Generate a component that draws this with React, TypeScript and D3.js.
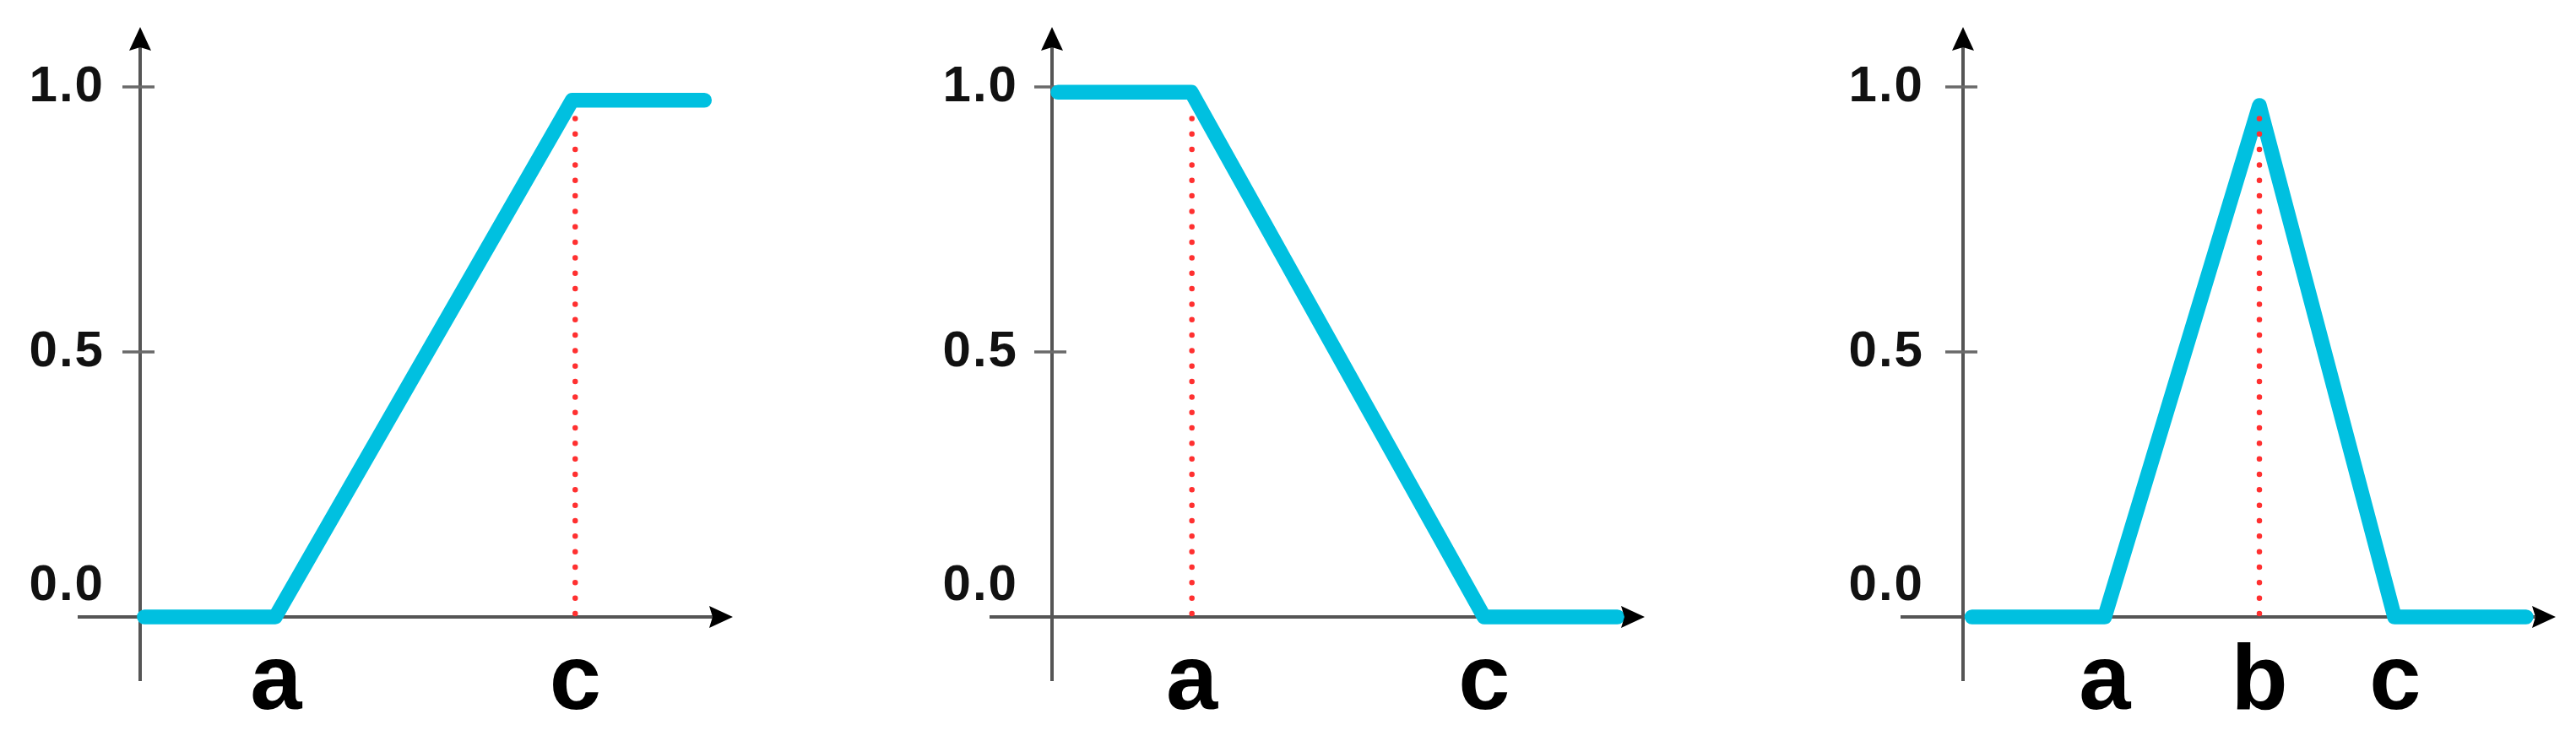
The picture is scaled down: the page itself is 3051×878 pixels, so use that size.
import React from "react";
import * as d3 from "d3";

const W = 3051;
const H = 878;

// Y axis ticks
const tickValues = [0, 0.5, 1.0];
const tickLabels = ["0.0", "0.5", "1.0"];

// Panel 1 (increasing ramp) — x in units where 100 = arrow tip
const p1X = [0.7, 22.8, 72.9, 95.2];
const p1Y = [0, 0, 0.975, 0.975];
const p1Marks = ["a", "c"];
const p1MarkX = [22.9, 73.4];
const p1GuideX = [73.4];
const p1GuideTop = [0.945];

// Panel 2 (decreasing ramp)
const p2X = [1.0, 23.5, 72.9, 95.4];
const p2Y = [0.99, 0.99, 0, 0];
const p2Marks = ["a", "c"];
const p2MarkX = [23.6, 72.9];
const p2GuideX = [23.6];
const p2GuideTop = [0.945];

// Panel 3 (triangle)
const p3X = [1.5, 23.9, 50.0, 72.8, 95.0];
const p3Y = [0, 0, 0.965, 0, 0];
const p3Marks = ["a", "b", "c"];
const p3MarkX = [23.9, 50.0, 72.9];
const p3GuideX = [50.0];
const p3GuideTop = [0.945];

const panels = [
  { xs: p1X, ys: p1Y, marks: p1Marks, markX: p1MarkX, guideX: p1GuideX, guideTop: p1GuideTop },
  { xs: p2X, ys: p2Y, marks: p2Marks, markX: p2MarkX, guideX: p2GuideX, guideTop: p2GuideTop },
  { xs: p3X, ys: p3Y, marks: p3Marks, markX: p3MarkX, guideX: p3GuideX, guideTop: p3GuideTop },
];

// layout
const origins = [166, 1246, 2325];
const labelGap = [42, 40, 46];
const axisLen = 702;
const yScale = d3.scaleLinear().domain([0, 1]).range([731, 103]);

const CYAN = "#00c0e0";
const RED = "#ff3030";
const AXIS = "#555555";
const FONT = "'Liberation Sans', Arial, Helvetica, sans-serif";

function Panel({ idx }: { idx: number }) {
  const p = panels[idx];
  const ox = origins[idx];
  const x = d3.scaleLinear().domain([0, 100]).range([ox, ox + axisLen]);
  const pts: [number, number][] = p.xs.map((v, i) => [x(v), yScale(p.ys[i])]);
  const line = d3.line<[number, number]>().x((d) => d[0]).y((d) => d[1]);
  const y0 = yScale(0);
  const tipY = 32;
  const tipX = x(100);
  return (
    <g>
      <line x1={ox} x2={ox} y1={tipY + 24} y2={807} stroke={AXIS} strokeWidth={4} />
      <line x1={ox - 74} x2={tipX - 24} y1={y0} y2={y0} stroke={AXIS} strokeWidth={4} />
      {tickValues
        .filter((v) => v > 0)
        .map((v) => (
          <line key={v} x1={ox - 21} x2={ox + 17} y1={yScale(v)} y2={yScale(v)} stroke="#6a6a6a" strokeWidth={3.5} />
        ))}
      {tickValues.map((v, i) => (
        <text
          key={"l" + v}
          x={ox - labelGap[idx]}
          y={v === 0 ? y0 - 20 : yScale(v) + 17}
          textAnchor="end"
          fontFamily={FONT}
          fontWeight="bold"
          fontSize={60}
          letterSpacing={2}
          fill="#111"
        >
          {tickLabels[i]}
        </text>
      ))}
      <path
        d={line(pts) || ""}
        fill="none"
        stroke={CYAN}
        strokeWidth={17.5}
        strokeLinejoin="round"
        strokeLinecap="round"
      />
      {p.guideX.map((g, i) => (
        <line
          key={"g" + i}
          x1={x(g)}
          x2={x(g)}
          y1={y0 - 4}
          y2={yScale(p.guideTop[i])}
          stroke={RED}
          strokeWidth={6.5}
          strokeLinecap="round"
          strokeDasharray="0 18.33"
        />
      ))}
      <path
        d={`M${ox},${tipY} L${ox + 13},${tipY + 28} L${ox},${tipY + 24} L${ox - 13},${tipY + 28} Z`}
        fill="#000"
      />
      <path
        d={`M${tipX},${y0} L${tipX - 28},${y0 - 13} L${tipX - 24},${y0} L${tipX - 28},${y0 + 13} Z`}
        fill="#000"
      />
      {p.marks.map((m, i) => (
        <text
          key={"m" + m}
          x={x(p.markX[i])}
          y={840}
          textAnchor="middle"
          fontFamily={FONT}
          fontWeight="bold"
          fontSize={110}
          fill="#000"
        >
          {m}
        </text>
      ))}
    </g>
  );
}

export default function App() {
  return (
    <svg
      width={W}
      height={H}
      viewBox={`0 0 ${W} ${H}`}
      style={{ position: "absolute", left: 0, top: 0, display: "block", background: "#fff" }}
    >
      <rect width={W} height={H} fill="#fff" />
      {panels.map((_, i) => (
        <Panel key={i} idx={i} />
      ))}
    </svg>
  );
}
